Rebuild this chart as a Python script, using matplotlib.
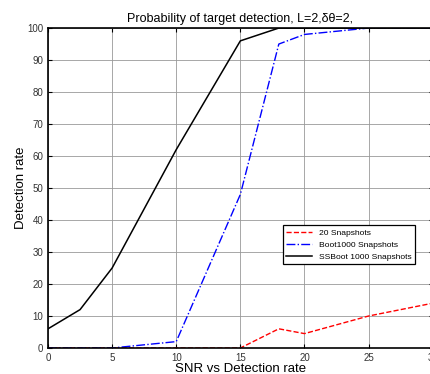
import numpy as np
import matplotlib.pyplot as plt

plt.rcParams['font.family'] = ['Liberation Sans', 'DejaVu Sans']

snr_black = [0, 2.5, 5, 10, 15, 18, 20, 25, 30]
ssboot = [6, 12, 25, 62, 96, 100, 100, 100, 100]

snr_blue = [0, 5, 10, 15, 18, 20, 25, 30]
boot = [0, 0, 2, 48, 95, 98, 100, 100]

snr_red = [0, 5, 10, 15, 18, 20, 25, 30]
snap20 = [0, 0, 0, 0, 6, 4.5, 10, 14]

fig = plt.figure(figsize=(4.31, 3.74), dpi=100)
ax = fig.add_axes([0.1114, 0.0695, 0.8925, 0.8555])

ax.plot(snr_red, snap20, 'r--', lw=1, label='20 Snapshots')
ax.plot(snr_blue, boot, 'b-.', lw=1, label='Boot1000 Snapshots')
ax.plot(snr_black, ssboot, 'k-', lw=1.1, label='SSBoot 1000 Snapshots')

ax.set_xlim(0, 30)
ax.set_ylim(0, 100)
ax.set_xticks(np.arange(0, 31, 5))
ax.set_yticks(np.arange(0, 101, 10))
ax.grid(True, color='#999999', lw=0.6)
ax.tick_params(direction='in', labelsize=7, labelcolor='#333333',
               top=True, right=True, length=3)
for s in ax.spines.values():
    s.set_linewidth(1.2)

ax.set_xlabel('SNR vs Detection rate', fontsize=9.5, labelpad=0)
ax.set_ylabel('Detection rate', fontsize=9.5, labelpad=0)
ax.set_title('Probability of target detection, L=2,δθ=2,', fontsize=9, pad=4)

leg = ax.legend(loc='upper left', bbox_to_anchor=(0.6, 0.397), fontsize=6.1,
                frameon=True, fancybox=False, edgecolor='black', framealpha=1,
                handlelength=3, borderpad=0.4, labelspacing=0.5)
leg.get_frame().set_linewidth(0.9)

fig.savefig('out.png', dpi=100)
